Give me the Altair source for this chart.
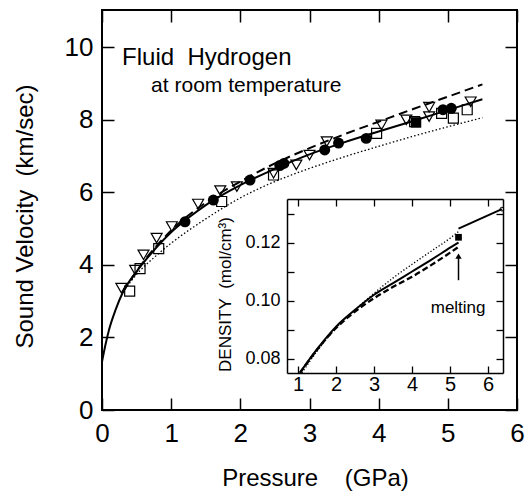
import altair as alt
import pandas as pd

FONT = "Liberation Sans"

# ---------------- main panel data (pressure GPa, sound velocity km/s)
solid_p = [0, 0.05, 0.1, 0.2, 0.3, 0.5, 0.75, 1.0, 1.25, 1.5, 2.0, 2.5, 3.0, 3.5, 4.0, 4.5, 5.0, 5.5]
solid_v = [1.33, 1.8, 2.2, 2.78, 3.24, 3.82, 4.4, 4.9, 5.3, 5.65, 6.2, 6.65, 7.05, 7.38, 7.68, 7.97, 8.27, 8.57]

dashed_p = [0.3, 0.5, 1.0, 1.5, 2.0, 2.5, 3.0, 3.5, 4.0, 4.5, 5.0, 5.5]
dashed_v = [3.25, 3.83, 4.95, 5.72, 6.3, 6.8, 7.22, 7.6, 7.95, 8.3, 8.64, 8.98]

dotted_p = [0.3, 0.5, 0.75, 1.0, 1.25, 1.5, 2.0, 2.5, 3.0, 3.5, 4.0, 4.5, 5.0, 5.5]
dotted_v = [3.25, 3.74, 4.2, 4.6, 4.95, 5.27, 5.85, 6.3, 6.66, 6.98, 7.27, 7.55, 7.81, 8.06]

tri_p = [0.28, 0.48, 0.6, 0.79, 1.01, 1.39, 1.71, 1.95, 2.48, 2.81, 3.0, 3.25, 4.04, 4.4, 4.73, 4.73, 5.33]
tri_v = [3.36, 3.86, 4.28, 4.74, 5.06, 5.68, 6.05, 6.16, 6.53, 6.76, 7.03, 7.4, 7.86, 8.0, 8.35, 8.09, 8.5]

circ_p = [1.2, 1.61, 2.14, 2.57, 2.63, 3.22, 3.42, 3.82, 4.93, 5.05]
circ_v = [5.19, 5.79, 6.34, 6.74, 6.8, 7.17, 7.36, 7.49, 8.28, 8.32]

sq_p = [0.4, 0.55, 0.82, 1.73, 2.48, 3.97, 4.52, 4.91, 5.08, 5.28]
sq_v = [3.28, 3.9, 4.45, 5.75, 6.48, 7.63, 7.95, 8.18, 8.05, 8.28]

fsq_p = [4.54]
fsq_v = [7.93]

label_text = ["Fluid\u00a0\u00a0Hydrogen", "at room temperature"]
label_p = [0.29, 0.71]
label_v = [9.52, 8.77]
label_size = [24, 21]

x_ticks = [0, 1, 2, 3, 4, 5, 6]
y_ticks = [0, 2, 4, 6, 8, 10]

# ---------------- inset data (pressure GPa, density mol/cm3)
in_solid_p = [1.05, 1.5, 2.0, 2.5, 3.0, 3.5, 4.0, 4.5, 5.0, 5.22]
in_solid_d = [0.0751, 0.0832, 0.0910, 0.0968, 0.1020, 0.1060, 0.1100, 0.1140, 0.1182, 0.1200]

in_solid2_p = [5.22, 6.36]
in_solid2_d = [0.1248, 0.1315]

in_dot_p = [1.1, 1.5, 2.0, 2.5, 3.0, 3.5, 4.0, 4.5, 5.0, 5.22]
in_dot_d = [0.0750, 0.0825, 0.0905, 0.0968, 0.1025, 0.1078, 0.1125, 0.1170, 0.1215, 0.1238]

in_dash_p = [1.05, 1.5, 2.0, 2.5, 3.0, 3.5, 4.0, 4.5, 5.0, 5.22]
in_dash_d = [0.0750, 0.0830, 0.0905, 0.0962, 0.1008, 0.1047, 0.1082, 0.1122, 0.1165, 0.1185]

in_sq_p = [5.22]
in_sq_d = [0.1218]

in_circ_p = [6.36]
in_circ_d = [0.1315]

arrow_p = [5.22]
arrow_d0 = [0.1070]
arrow_d1 = [0.1150]
arrow_head_d = [0.1153]

melt_text = ["melting"]
melt_p = [5.21]
melt_d = [0.0958]

in_x_ticks = [1, 2, 3, 4, 5, 6]
in_y_ticks = [0.08, 0.09, 0.10, 0.11, 0.12, 0.13]

# ---------------- helpers
def df(**kw):
    return pd.DataFrame(kw)

BLACK = "black"

# main scales / axes
x_scale = alt.Scale(domain=[0, 6], nice=False, zero=False)
y_scale = alt.Scale(domain=[0, 11.03], nice=False, zero=False)

x_axis = alt.Axis(
    orient="bottom", values=x_ticks, format="d", grid=False, domain=False,
    tickSize={"expr": "-12"}, tickWidth=1.5, tickColor=BLACK,
    labelPadding=22, labelFont=FONT, labelFontSize=26, labelColor=BLACK,
    labelFlush=False, labelOverlap=False,
    title="Pressure\u00a0\u00a0\u00a0\u00a0(GPa)", titleFont=FONT, titleFontSize=24,
    titleFontWeight="normal", titleColor=BLACK, titleX=213, titleY=75,
    titleBaseline="alphabetic", titleAlign="center",
)
y_axis = alt.Axis(
    orient="left", values=y_ticks, format="d", grid=False, domain=False,
    tickSize={"expr": "-12"}, tickWidth=1.5, tickColor=BLACK,
    labelPadding=21, labelFont=FONT, labelFontSize=26, labelColor=BLACK,
    labelFlush=False, labelOverlap=False,
    title="Sound Velocity\u00a0\u00a0(km/sec)", titleFont=FONT, titleFontSize=24,
    titleFontWeight="normal", titleColor=BLACK, titleX=-70, titleY=206,
    titleAngle=270, titleBaseline="alphabetic", titleAlign="center",
)

X = alt.X("P:Q", scale=x_scale, axis=x_axis)
Y = alt.Y("v:Q", scale=y_scale, axis=y_axis)

main_solid = alt.Chart(df(P=solid_p, v=solid_v)).mark_line(color=BLACK, strokeWidth=2, interpolate="monotone").encode(x=X, y=Y)
main_dash = alt.Chart(df(P=dashed_p, v=dashed_v)).mark_line(color=BLACK, strokeWidth=2, strokeDash=[9, 5], interpolate="monotone").encode(x=X, y=Y)
main_dot = alt.Chart(df(P=dotted_p, v=dotted_v)).mark_line(color=BLACK, strokeWidth=1.3, strokeDash=[1.5, 2.2], interpolate="monotone").encode(x=X, y=Y)
main_tri = alt.Chart(df(P=tri_p, v=tri_v)).mark_point(shape="triangle-down", size=120, filled=False, color=BLACK, strokeWidth=1.2, opacity=1).encode(x=X, y=Y)
main_sq = alt.Chart(df(P=sq_p, v=sq_v)).mark_point(shape="square", size=100, filled=False, color=BLACK, strokeWidth=1.2, opacity=1).encode(x=X, y=Y)
main_circ = alt.Chart(df(P=circ_p, v=circ_v)).mark_point(shape="circle", size=120, filled=True, color=BLACK, opacity=1).encode(x=X, y=Y)
main_fsq = alt.Chart(df(P=fsq_p, v=fsq_v)).mark_point(shape="square", size=110, filled=True, color=BLACK, opacity=1).encode(x=X, y=Y)
main_text = alt.Chart(df(P=label_p, v=label_v, t=label_text, s=label_size)).mark_text(
    font=FONT, color=BLACK, align="left", baseline="alphabetic"
).encode(x=X, y=Y, text="t:N", size=alt.Size("s:Q", scale=None, legend=None))

main = alt.layer(main_solid, main_dash, main_dot, main_tri, main_sq, main_circ, main_fsq, main_text)

# mirror ticks (top / right) for main panel
mirror_main = alt.Chart(df(P=solid_p, v=solid_v)).mark_line(opacity=0).encode(
    x=alt.X("P:Q", scale=x_scale, axis=alt.Axis(orient="top", values=x_ticks, labels=False, grid=False, domain=False,
                                              tickSize={"expr": "-12"}, tickWidth=1.5, tickColor=BLACK, title=None)),
    y=alt.Y("v:Q", scale=y_scale, axis=alt.Axis(orient="right", values=y_ticks, labels=False, grid=False, domain=False,
                                              tickSize={"expr": "-12"}, tickWidth=1.5, tickColor=BLACK, title=None)),
)

# ---------------- inset
ix_scale = alt.Scale(domain=[0.71, 6.39], range=[185, 401], nice=False, zero=False)
iy_scale = alt.Scale(domain=[0.075, 0.135], range=[363, 189], nice=False, zero=False)

ix_axis = alt.Axis(
    orient="bottom", offset=-37, values=in_x_ticks, format="d", grid=False,
    domain=True, domainColor=BLACK, domainWidth=1.5,
    tickSize={"expr": "-7"}, tickWidth=1.3, tickColor=BLACK,
    labelPadding=8, labelFont=FONT, labelFontSize=20, labelColor=BLACK,
    labelFlush=False, labelOverlap=False, title=None,
)
iy_axis = alt.Axis(
    orient="left", offset=-185, values=in_y_ticks, grid=False,
    domain=True, domainColor=BLACK, domainWidth=1.5,
    tickSize={"expr": "-7"}, tickWidth=1.3, tickColor=BLACK,
    labelExpr="indexof(['0.08','0.10','0.12'], format(datum.value, '.2f')) >= 0 ? format(datum.value, '.2f') : ''",
    labelPadding=14, labelFont=FONT, labelFontSize=18, labelColor=BLACK,
    labelFlush=False, labelOverlap=False,
    title="DENSITY\u00a0\u00a0(mol/cm\u00b3)", titleFont=FONT, titleFontSize=17,
    titleFontWeight="normal", titleColor=BLACK, titleX=-57, titleY=284,
    titleAngle=270, titleBaseline="alphabetic", titleAlign="center",
)

IX = alt.X("P:Q", scale=ix_scale, axis=ix_axis)
IY = alt.Y("d:Q", scale=iy_scale, axis=iy_axis)

in_solid = alt.Chart(df(P=in_solid_p, d=in_solid_d)).mark_line(color=BLACK, strokeWidth=2, interpolate="monotone").encode(x=IX, y=IY)
in_solid2 = alt.Chart(df(P=in_solid2_p, d=in_solid2_d)).mark_line(color=BLACK, strokeWidth=2).encode(x=IX, y=IY)
in_dot = alt.Chart(df(P=in_dot_p, d=in_dot_d)).mark_line(color=BLACK, strokeWidth=1.3, strokeDash=[1.3, 2], interpolate="monotone").encode(x=IX, y=IY)
in_dash = alt.Chart(df(P=in_dash_p, d=in_dash_d)).mark_line(color=BLACK, strokeWidth=2.3, strokeDash=[6, 3], interpolate="monotone").encode(x=IX, y=IY)
in_sq = alt.Chart(df(P=in_sq_p, d=in_sq_d)).mark_point(shape="square", size=45, filled=True, color=BLACK, opacity=1).encode(x=IX, y=IY)
in_circ = alt.Chart(df(P=in_circ_p, d=in_circ_d)).mark_point(shape="circle", size=14, filled=False, color=BLACK, strokeWidth=1, opacity=1).encode(x=IX, y=IY)
in_arrow = alt.Chart(df(P=arrow_p, d=arrow_d0, d2=arrow_d1)).mark_rule(color=BLACK, strokeWidth=1.5).encode(x=IX, y=IY, y2="d2:Q")
in_head = alt.Chart(df(P=arrow_p, d=arrow_head_d)).mark_point(shape="triangle-up", size=40, filled=True, color=BLACK, opacity=1).encode(x=IX, y=IY)
in_text = alt.Chart(df(P=melt_p, d=melt_d, t=melt_text)).mark_text(
    font=FONT, fontSize=17, color=BLACK, align="center", baseline="alphabetic"
).encode(x=IX, y=IY, text="t:N")

inset = alt.layer(in_dot, in_dash, in_solid, in_solid2, in_sq, in_circ, in_arrow, in_head, in_text)

mirror_inset = alt.Chart(df(P=in_solid_p, d=in_solid_d)).mark_line(opacity=0).encode(
    x=alt.X("P:Q", scale=ix_scale, axis=alt.Axis(orient="top", offset=-189, values=in_x_ticks, labels=False, grid=False,
                                               domain=True, domainColor=BLACK, domainWidth=1.5,
                                               tickSize={"expr": "-7"}, tickWidth=1.3, tickColor=BLACK, title=None)),
    y=alt.Y("d:Q", scale=iy_scale, axis=alt.Axis(orient="right", offset=-14, values=in_y_ticks, labels=False, grid=False,
                                               domain=True, domainColor=BLACK, domainWidth=1.5,
                                               tickSize={"expr": "-7"}, tickWidth=1.3, tickColor=BLACK, title=None)),
)

chart = alt.layer(main, mirror_main, inset, mirror_inset).resolve_scale(
    x="independent", y="independent"
).properties(
    width=415, height=400,
    autosize=alt.AutoSizeParams(type="none"),
    padding={"left": 102, "top": 10, "right": 8, "bottom": 83},
    background="white",
).configure_view(stroke=BLACK, strokeWidth=2).configure_axis(grid=False)

chart.save("out.html", embed_options={"renderer": "svg", "actions": False})
